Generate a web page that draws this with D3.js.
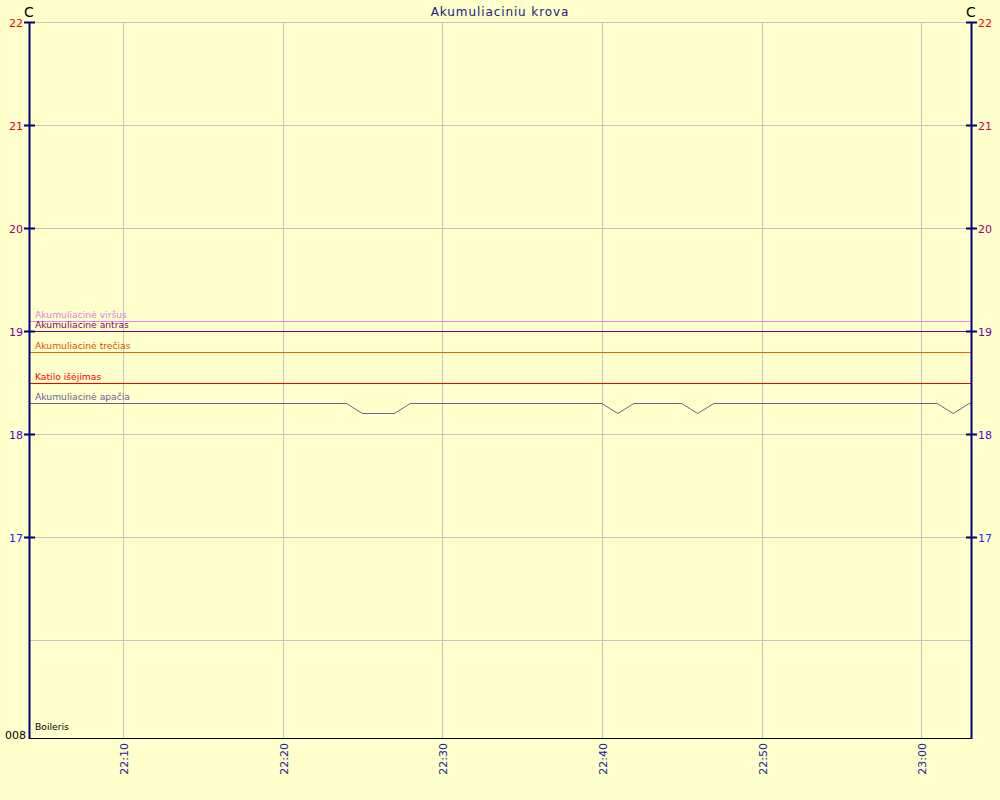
<!DOCTYPE html>
<html><head><meta charset="utf-8">
<script src="https://cdn.jsdelivr.net/npm/d3@7"></script>
<style>body{margin:0;background:#ffffcc;} svg{display:block;}</style>
</head><body>
<svg id="c" width="1000" height="800"></svg>
<script>
const title = "Akumuliaciniu krova";
const yTicks = [17, 18, 19, 20, 21, 22];
const yTickColors = ["#1e1eff", "#5a00d8", "#7a00a8", "#a00070", "#d0003c", "#ff0000"];
const yGrid = [16, 17, 18, 19, 20, 21, 22];
const xTicks = ["22:10", "22:20", "22:30", "22:40", "22:50", "23:00"];
const timeStart = "22:04:07", timeEnd = "23:03:07";

const seriesNames = ["Akumuliacinė viršus", "Akumuliacinė antras", "Akumuliacinė trečias", "Katilo išėjimas", "Akumuliacinė apačia"];
const seriesColors = ["#ee82ee", "#800080", "#ff5a00", "#ff0000", "#64649a"];
const labelColors = ["#e080e0", "#800080", "#e05000", "#ff0000", "#64649a"];
const virsusT = ["22:04:07", "23:03:07"], virsusV = [19.1, 19.1];
const antrasT = ["22:04:07", "23:03:07"], antrasV = [19.0, 19.0];
const treciasT = ["22:04:07", "23:03:07"], treciasV = [18.8, 18.8];
const katiloT = ["22:04:07", "23:03:07"], katiloV = [18.5, 18.5];
const apaciaT = ["22:04:07", "22:24", "22:25", "22:27", "22:28", "22:40", "22:41", "22:42", "22:45", "22:46", "22:47", "23:01", "23:02", "23:03", "23:03:07"];
const apaciaV = [18.3, 18.3, 18.2, 18.2, 18.3, 18.3, 18.2, 18.3, 18.3, 18.2, 18.3, 18.3, 18.2, 18.3, 18.3];
const boilerLabel = "Boileris";
const bottomLabel = "008";
const unitLabel = "C";

const parse = s => { const p = s.split(":").map(Number); return new Date(2020,0,1,p[0],p[1],p[2]||0); };
const svg = d3.select("#c");
const L = 29, R = 971, T = 22, B = 738;
const x = d3.scaleTime().domain([parse(timeStart), parse(timeEnd)]).range([L, R]);
const y = d3.scaleLinear().domain([15.05, 22]).range([B, T]);
const font = "Verdana, 'DejaVu Sans', sans-serif";

svg.append("rect").attr("width",1000).attr("height",800).attr("fill","#ffffcc");

// grid
svg.append("g").selectAll("line").data(yGrid).join("line")
  .attr("x1", L).attr("x2", R).attr("y1", d=>Math.round(y(d))+0.5).attr("y2", d=>Math.round(y(d))+0.5)
  .attr("stroke", "#c4c4c4").attr("stroke-width",1);
svg.append("g").selectAll("line").data(xTicks).join("line")
  .attr("x1", d=>Math.round(x(parse(d)))+0.5).attr("x2", d=>Math.round(x(parse(d)))+0.5).attr("y1", T).attr("y2", B)
  .attr("stroke", "#c4c4c4").attr("stroke-width",1);

// series
const series = [[virsusT,virsusV],[antrasT,antrasV],[treciasT,treciasV],[katiloT,katiloV],[apaciaT,apaciaV]];
const line = d3.line().x(d=>x(d[0])).y(d=>Math.round(y(d[1]))+0.5);
series.forEach((s,i)=>{
  const pts = s[0].map((t,j)=>[parse(t), s[1][j]]);
  svg.append("path").attr("d", line(pts)).attr("fill","none").attr("stroke", seriesColors[i]).attr("stroke-width",1);
  svg.append("text").attr("x", 35).attr("y", Math.round(y(s[1][0]))-3)
    .attr("font-family", font).attr("font-size", 9.2).attr("fill", labelColors[i]).text(seriesNames[i]);
});
svg.append("text").attr("x",35).attr("y",B-8).attr("font-family",font).attr("font-size",9.2).attr("fill","#000").text(boilerLabel);

// axes
svg.append("line").attr("x1",L).attr("x2",R).attr("y1",B+0.5).attr("y2",B+0.5).attr("stroke","#000");
[L, R].forEach(px=>{
  svg.append("line").attr("x1",px+0.5).attr("x2",px+0.5).attr("y1",T).attr("y2",B+1).attr("stroke","#000080").attr("stroke-width",2);
});
const tk = svg.append("g");
yTicks.forEach((v,i)=>{
  const py = Math.round(y(v))+0.5;
  tk.append("line").attr("x1",L-5).attr("x2",L+6).attr("y1",py).attr("y2",py).attr("stroke","#000080").attr("stroke-width",2);
  tk.append("line").attr("x1",R-5).attr("x2",R+6).attr("y1",py).attr("y2",py).attr("stroke","#000080").attr("stroke-width",2);
  tk.append("text").attr("x",L-6).attr("y",py+4).attr("text-anchor","end").attr("font-family",font).attr("font-size",11).attr("fill",yTickColors[i]).text(v);
  tk.append("text").attr("x",R+7).attr("y",py+4).attr("text-anchor","start").attr("font-family",font).attr("font-size",11).attr("fill",yTickColors[i]).text(v);
});
svg.append("text").attr("x",L-3).attr("y",B+1).attr("text-anchor","end").attr("font-family",font).attr("font-size",11).attr("fill","#000").text(bottomLabel);
xTicks.forEach(t=>{
  const px = Math.round(x(parse(t)))+0.5;
  svg.append("text").attr("transform",`translate(${px+4},${B+5}) rotate(-90)`).attr("text-anchor","end")
    .attr("font-family",font).attr("font-size",11).attr("fill","#2020a0").text(t);
});
svg.append("text").attr("x",L).attr("y",17).attr("text-anchor","middle").attr("font-family",font).attr("font-size",14).attr("fill","#000").text(unitLabel);
svg.append("text").attr("x",R).attr("y",17).attr("text-anchor","middle").attr("font-family",font).attr("font-size",14).attr("fill","#000").text(unitLabel);
svg.append("text").attr("x",500).attr("y",16).attr("text-anchor","middle").attr("font-family",font).attr("font-size",12).attr("letter-spacing","0.9px").attr("fill","#202080").text(title);
</script>
</body></html>
